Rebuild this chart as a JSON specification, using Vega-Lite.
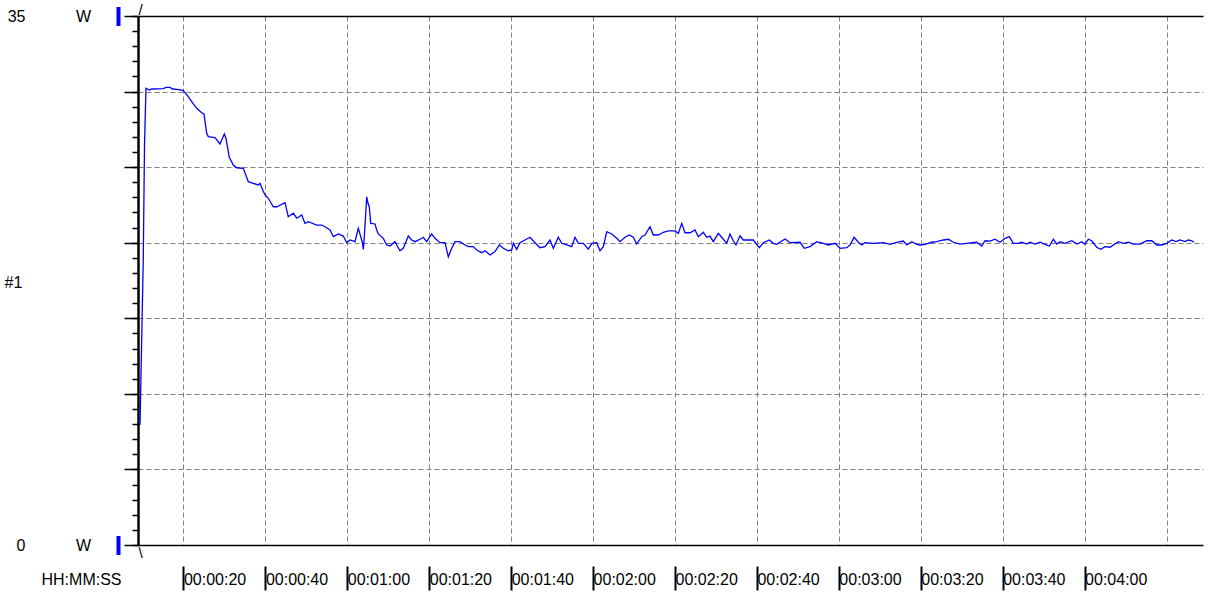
{
  "$schema": "https://vega.github.io/schema/vega-lite/v6.json",
  "width": 1065,
  "height": 529,
  "autosize": {"type": "none"},
  "padding": {"left": 138, "top": 16, "right": 13, "bottom": 56},
  "background": "white",
  "config": {
    "view": {"stroke": null},
    "font": "Liberation Sans",
    "axis": {"labelFont": "Liberation Sans", "titleFont": "Liberation Sans", "labelColor": "black", "titleColor": "black", "titleFontWeight": "normal", "labelFlush": false, "labelOverlap": false}
  },
  "data": {"values": [
    {"t": 9.39, "w": 7.94}, {"t": 10.19, "w": 18.99}, {"t": 10.49, "w": 26.47}, {"t": 10.85, "w": 30.22},
    {"t": 11.66, "w": 30.10}, {"t": 12.24, "w": 30.17}, {"t": 15.08, "w": 30.19}, {"t": 15.74, "w": 30.28},
    {"t": 16.71, "w": 30.28}, {"t": 17.37, "w": 30.17}, {"t": 18.35, "w": 30.15}, {"t": 19.57, "w": 30.10},
    {"t": 19.96, "w": 30.06}, {"t": 21.18, "w": 29.66}, {"t": 22.01, "w": 29.33}, {"t": 23.23, "w": 28.89},
    {"t": 24.45, "w": 28.60}, {"t": 25.01, "w": 28.52}, {"t": 25.67, "w": 27.24}, {"t": 26.06, "w": 27.02},
    {"t": 27.70, "w": 26.95}, {"t": 28.92, "w": 26.53}, {"t": 29.97, "w": 27.19}, {"t": 30.38, "w": 26.91},
    {"t": 31.19, "w": 25.65}, {"t": 32.17, "w": 25.14}, {"t": 33.00, "w": 24.96}, {"t": 34.61, "w": 24.92},
    {"t": 35.83, "w": 24.04}, {"t": 37.05, "w": 23.93}, {"t": 38.27, "w": 23.82}, {"t": 38.69, "w": 23.93},
    {"t": 39.34, "w": 23.49}, {"t": 39.91, "w": 23.16}, {"t": 40.71, "w": 22.94}, {"t": 41.93, "w": 22.38},
    {"t": 42.76, "w": 22.38}, {"t": 44.79, "w": 22.65}, {"t": 45.59, "w": 21.72}, {"t": 46.82, "w": 21.95},
    {"t": 47.65, "w": 21.62}, {"t": 48.87, "w": 21.83}, {"t": 49.67, "w": 21.28}, {"t": 50.48, "w": 21.39},
    {"t": 52.53, "w": 21.17}, {"t": 53.75, "w": 21.17}, {"t": 54.55, "w": 21.06}, {"t": 55.78, "w": 20.84},
    {"t": 56.58, "w": 20.40}, {"t": 57.80, "w": 20.58}, {"t": 59.02, "w": 20.44}, {"t": 59.85, "w": 20.00},
    {"t": 60.66, "w": 20.18}, {"t": 61.88, "w": 20.07}, {"t": 62.68, "w": 20.95}, {"t": 63.27, "w": 20.40},
    {"t": 63.66, "w": 20.03}, {"t": 63.91, "w": 19.56}, {"t": 64.15, "w": 20.40}, {"t": 64.74, "w": 23.04},
    {"t": 65.05, "w": 22.61}, {"t": 65.37, "w": 22.38}, {"t": 65.71, "w": 21.28}, {"t": 66.76, "w": 21.24},
    {"t": 67.18, "w": 20.84}, {"t": 67.57, "w": 20.58}, {"t": 68.79, "w": 20.29}, {"t": 69.62, "w": 19.85},
    {"t": 70.42, "w": 19.78}, {"t": 71.64, "w": 20.07}, {"t": 72.06, "w": 19.85}, {"t": 72.86, "w": 19.47},
    {"t": 73.67, "w": 19.63}, {"t": 74.89, "w": 20.44}, {"t": 75.72, "w": 20.18}, {"t": 76.53, "w": 20.07},
    {"t": 77.75, "w": 20.23}, {"t": 78.55, "w": 20.36}, {"t": 79.38, "w": 20.07}, {"t": 80.60, "w": 20.58},
    {"t": 81.41, "w": 20.29}, {"t": 82.63, "w": 20.00}, {"t": 83.85, "w": 20.00}, {"t": 84.66, "w": 19.07},
    {"t": 85.49, "w": 19.63}, {"t": 86.29, "w": 20.07}, {"t": 87.51, "w": 20.07}, {"t": 88.73, "w": 19.85},
    {"t": 89.54, "w": 19.74}, {"t": 90.76, "w": 19.74}, {"t": 91.59, "w": 19.52}, {"t": 92.81, "w": 19.34},
    {"t": 93.62, "w": 19.47}, {"t": 94.84, "w": 19.19}, {"t": 96.06, "w": 19.41}, {"t": 97.11, "w": 19.85},
    {"t": 98.09, "w": 19.63}, {"t": 99.31, "w": 19.47}, {"t": 100.14, "w": 19.52}, {"t": 100.53, "w": 19.96},
    {"t": 101.36, "w": 19.56}, {"t": 102.16, "w": 20.00}, {"t": 103.38, "w": 20.18}, {"t": 104.60, "w": 20.36},
    {"t": 105.82, "w": 20.00}, {"t": 107.04, "w": 19.67}, {"t": 108.26, "w": 19.74}, {"t": 109.49, "w": 20.18},
    {"t": 110.29, "w": 19.63}, {"t": 111.51, "w": 20.36}, {"t": 112.34, "w": 19.96}, {"t": 113.56, "w": 19.85},
    {"t": 114.78, "w": 19.74}, {"t": 115.59, "w": 20.36}, {"t": 116.40, "w": 19.96}, {"t": 117.62, "w": 19.96},
    {"t": 118.84, "w": 19.58}, {"t": 119.67, "w": 19.96}, {"t": 120.89, "w": 20.00}, {"t": 121.69, "w": 19.47},
    {"t": 122.50, "w": 19.74}, {"t": 123.33, "w": 20.73}, {"t": 124.55, "w": 20.58}, {"t": 125.77, "w": 20.29},
    {"t": 126.58, "w": 20.07}, {"t": 127.80, "w": 20.36}, {"t": 128.85, "w": 20.51}, {"t": 129.82, "w": 20.36},
    {"t": 130.65, "w": 19.91}, {"t": 131.87, "w": 20.40}, {"t": 132.68, "w": 20.51}, {"t": 133.90, "w": 21.06},
    {"t": 134.71, "w": 20.51}, {"t": 135.93, "w": 20.51}, {"t": 137.15, "w": 20.69}, {"t": 138.37, "w": 20.78},
    {"t": 140.00, "w": 20.78}, {"t": 140.81, "w": 20.62}, {"t": 141.64, "w": 21.28}, {"t": 142.45, "w": 20.66},
    {"t": 143.67, "w": 20.66}, {"t": 144.89, "w": 20.84}, {"t": 145.69, "w": 20.40}, {"t": 146.91, "w": 20.69},
    {"t": 147.74, "w": 20.36}, {"t": 148.55, "w": 20.44}, {"t": 149.35, "w": 20.07}, {"t": 150.57, "w": 20.62},
    {"t": 151.40, "w": 20.36}, {"t": 152.62, "w": 19.96}, {"t": 153.43, "w": 20.56}, {"t": 154.23, "w": 20.13},
    {"t": 154.89, "w": 19.85}, {"t": 155.87, "w": 20.46}, {"t": 156.67, "w": 20.18}, {"t": 159.12, "w": 20.18},
    {"t": 160.58, "w": 19.67}, {"t": 161.56, "w": 20.00}, {"t": 163.03, "w": 20.18}, {"t": 164.00, "w": 19.96},
    {"t": 164.83, "w": 19.89}, {"t": 166.86, "w": 20.25}, {"t": 168.08, "w": 20.00}, {"t": 170.52, "w": 20.03},
    {"t": 171.57, "w": 19.63}, {"t": 172.96, "w": 19.74}, {"t": 174.60, "w": 20.07}, {"t": 176.21, "w": 19.96},
    {"t": 177.43, "w": 19.85}, {"t": 179.07, "w": 19.96}, {"t": 180.29, "w": 19.63}, {"t": 181.92, "w": 19.67},
    {"t": 182.73, "w": 19.85}, {"t": 183.71, "w": 20.36}, {"t": 184.75, "w": 20.03}, {"t": 185.58, "w": 19.85},
    {"t": 186.39, "w": 20.00}, {"t": 188.42, "w": 19.96}, {"t": 190.86, "w": 20.00}, {"t": 192.49, "w": 19.89},
    {"t": 194.13, "w": 20.03}, {"t": 195.74, "w": 20.11}, {"t": 196.57, "w": 19.85}, {"t": 197.79, "w": 20.07},
    {"t": 199.01, "w": 19.89}, {"t": 199.82, "w": 19.85}, {"t": 201.04, "w": 19.89}, {"t": 202.68, "w": 20.03},
    {"t": 203.90, "w": 20.07}, {"t": 205.51, "w": 20.18}, {"t": 206.73, "w": 20.23}, {"t": 207.95, "w": 20.03},
    {"t": 209.59, "w": 19.91}, {"t": 211.22, "w": 19.96}, {"t": 213.66, "w": 20.03}, {"t": 214.88, "w": 19.78},
    {"t": 215.69, "w": 20.13}, {"t": 216.91, "w": 20.11}, {"t": 218.13, "w": 20.23}, {"t": 219.35, "w": 20.03},
    {"t": 220.57, "w": 20.29}, {"t": 221.62, "w": 20.40}, {"t": 222.60, "w": 19.96}, {"t": 223.82, "w": 19.96},
    {"t": 224.65, "w": 20.03}, {"t": 225.87, "w": 19.91}, {"t": 226.68, "w": 20.03}, {"t": 227.90, "w": 19.91},
    {"t": 229.12, "w": 20.03}, {"t": 230.34, "w": 19.89}, {"t": 231.39, "w": 19.78}, {"t": 232.37, "w": 20.23},
    {"t": 233.19, "w": 19.91}, {"t": 234.00, "w": 20.07}, {"t": 235.22, "w": 19.96}, {"t": 236.85, "w": 20.13},
    {"t": 238.18, "w": 19.91}, {"t": 239.29, "w": 20.07}, {"t": 240.10, "w": 19.89}, {"t": 240.91, "w": 20.23},
    {"t": 241.74, "w": 20.13}, {"t": 242.96, "w": 19.70}, {"t": 243.94, "w": 19.56}, {"t": 244.99, "w": 19.74},
    {"t": 246.21, "w": 19.70}, {"t": 247.01, "w": 19.85}, {"t": 248.23, "w": 20.07}, {"t": 249.46, "w": 19.96},
    {"t": 250.68, "w": 20.03}, {"t": 251.90, "w": 19.91}, {"t": 253.53, "w": 19.91}, {"t": 255.17, "w": 20.13},
    {"t": 256.39, "w": 20.13}, {"t": 257.61, "w": 19.85}, {"t": 258.83, "w": 19.85}, {"t": 260.05, "w": 19.96},
    {"t": 261.27, "w": 20.18}, {"t": 262.32, "w": 20.07}, {"t": 263.30, "w": 20.18}, {"t": 264.52, "w": 20.07},
    {"t": 265.32, "w": 20.18}, {"t": 266.15, "w": 20.13}, {"t": 266.71, "w": 20.03}
  ]},
  "resolve": {"axis": {"x": "independent", "y": "independent"}},
  "layer": [
    {
      "mark": {"type": "line", "color": "#0000ff", "strokeWidth": 1.3, "clip": true},
      "encoding": {
        "x": {"field": "t", "type": "quantitative", "scale": {"domain": [8.9, 268.9], "nice": false, "zero": false},
          "axis": {"orient": "bottom", "values": [20, 40, 60, 80, 100, 120, 140, 160, 180, 200, 220, 240, 260], "grid": true, "gridColor": "#808080", "gridDash": [5, 3], "gridWidth": 1, "ticks": false, "labels": false, "domain": false, "title": null}},
        "y": {"field": "w", "type": "quantitative", "scale": {"domain": [0, 35], "nice": false, "zero": true},
          "axis": {"orient": "left", "values": [5, 10, 15, 20, 25, 30], "grid": true, "gridColor": "#808080", "gridDash": [5, 3], "gridWidth": 1, "ticks": false, "labels": false, "domain": false, "title": null}}
      }
    },
    {
      "mark": {"type": "line", "opacity": 0},
      "encoding": {
        "x": {"field": "t", "type": "quantitative",
          "axis": {"orient": "bottom", "values": [20, 40, 60, 80, 100, 120, 140, 160, 180, 200, 220, 240], "offset": 21, "domain": false, "grid": false, "ticks": true, "tickColor": "black", "tickSize": 24, "tickWidth": 2,
            "labelExpr": "'00:0' + floor(datum.value / 60) + ':' + (datum.value % 60 < 10 ? '0' : '') + (datum.value % 60)",
            "labelAlign": "left", "labelBaseline": "middle", "labelPadding": -11, "labelDx": 6, "labelFontSize": 16,
            "title": "HH:MM:SS", "titleX": -57, "titleY": 13, "titleAlign": "center", "titleBaseline": "middle", "titleFontSize": 16}},
        "y": {"field": "w", "type": "quantitative",
          "axis": {"orient": "left", "values": [0, 5, 10, 15, 20, 25, 30, 35], "domain": true, "domainColor": "black", "domainWidth": 2.5, "domainCap": "butt", "grid": false, "ticks": true, "tickColor": "black", "tickSize": 14, "tickWidth": 1.5,
            "labelExpr": "datum.value == 35 || datum.value == 0 ? datum.label : ''", "labelFontSize": 16, "labelPadding": 99, "labelAlign": "right", "labelBaseline": "middle",
            "title": "#1", "titleAngle": 0, "titleX": -134, "titleY": 266, "titleAlign": "left", "titleBaseline": "middle", "titleFontSize": 16}}
      }
    },
    {
      "mark": {"type": "line", "opacity": 0},
      "encoding": {
        "x": {"field": "t", "type": "quantitative",
          "axis": {"orient": "top", "values": [8.9], "domain": false, "grid": false, "ticks": false, "tickSize": 0, "labelExpr": "'/'", "labelAlign": "left", "labelBaseline": "middle", "labelPadding": 7, "labelFontSize": 15, "title": null}},
        "y": {"field": "w", "type": "quantitative",
          "axis": {"orient": "left", "values": [0, 1, 2, 3, 4, 5, 6, 7, 8, 9, 10, 11, 12, 13, 14, 15, 16, 17, 18, 19, 20, 21, 22, 23, 24, 25, 26, 27, 28, 29, 30, 31, 32, 33, 34, 35], "domain": false, "grid": false, "ticks": true, "tickColor": "black", "tickSize": 6, "tickWidth": 1.5, "labels": false, "title": null}}
      }
    },
    {
      "mark": {"type": "line", "opacity": 0},
      "encoding": {
        "x": {"field": "t", "type": "quantitative",
          "axis": {"orient": "bottom", "values": [8.9], "domain": false, "grid": false, "ticks": false, "tickSize": 0, "labelExpr": "'\\\\'", "labelAlign": "left", "labelBaseline": "middle", "labelPadding": 7, "labelFontSize": 15, "title": null}},
        "y": {"field": "w", "type": "quantitative",
          "axis": {"orient": "left", "values": [0, 35], "domain": false, "grid": true, "gridColor": "black", "gridWidth": 1.5, "ticks": false, "tickSize": 0, "labelExpr": "'W'", "labelAlign": "center", "labelBaseline": "middle", "labelPadding": 55, "labelFontSize": 16, "title": null}}
      }
    },
    {
      "mark": {"type": "line", "opacity": 0},
      "encoding": {
        "x": {"field": "t", "type": "quantitative", "axis": null},
        "y": {"field": "w", "type": "quantitative",
          "axis": {"orient": "left", "values": [0, 35], "offset": 18, "domain": false, "grid": false, "ticks": true, "tickColor": "#0000ff", "tickSize": 4, "tickWidth": 19, "tickCap": "butt", "labels": false, "title": null}}
      }
    }
  ]
}
